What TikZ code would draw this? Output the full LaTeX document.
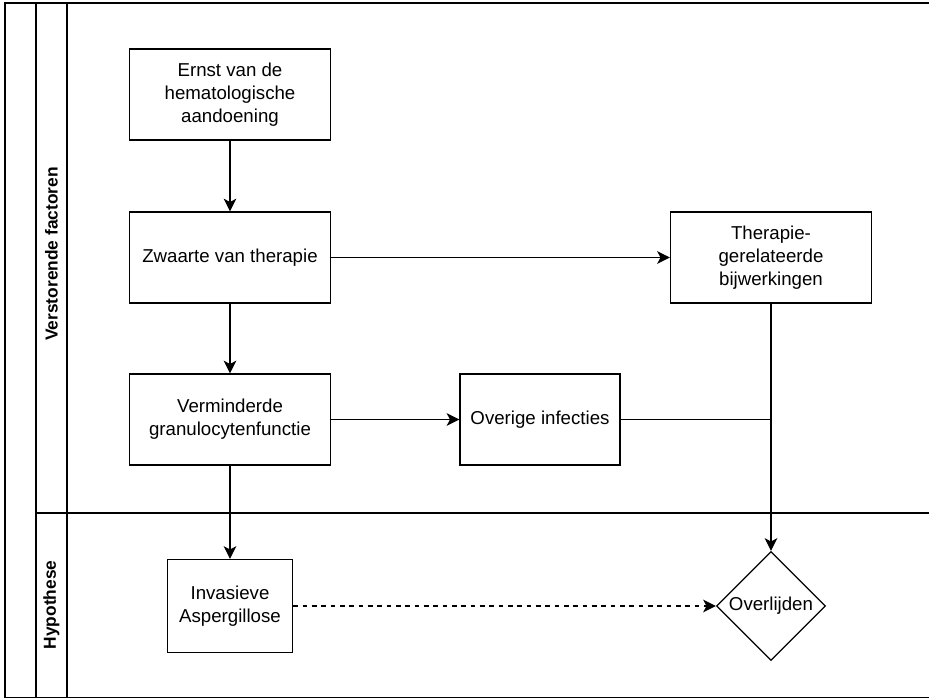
\documentclass[tikz,border=0pt]{standalone}
\usepackage{fontspec}
\setmainfont{Liberation Sans}
\usetikzlibrary{arrows.meta,shapes.geometric}

\begin{document}
\begin{tikzpicture}[
		x=0.75pt,
		y=-0.75pt,
		font=\fontsize{14}{17.2}\selectfont,
		line width=1pt,
		>={Stealth[length=9.5pt,width=9.5pt,inset=2.5pt]},
		box/.style={draw, rectangle, align=center, inner sep=2pt,
			minimum width=150.75pt, minimum height=68.25pt},
		decision/.style={draw, diamond, aspect=1, inner sep=0pt,
			minimum width=81.75pt, minimum height=81.75pt},
		lanelabel/.style={rotate=90, font=\fontsize{13}{15}\selectfont\bfseries},
		flow/.style={->},
		maybe/.style={->, dash pattern=on 3.6pt off 3.4pt}
		]
		
		\useasboundingbox (0,0) rectangle (929,699);
		
		% pool and lanes
		\draw (5,3) rectangle (940,697.6);
		\draw (36,3) -- (36,697.6);
		\draw (67,3) -- (67,697.6);
		\draw (36,513) -- (940,513);
		\node[lanelabel] (lane1) at (51.5,254) {Verstorende factoren};
		\node[lanelabel] (lane2) at (51.5,605) {Hypothese};
		
		% factors
		\node[box] (ernst) at (230,94.5) {Ernst van de\\hematologische\\aandoening};
		\node[box] (zwaarte) at (230,257.5) {Zwaarte van therapie};
		\node[box] (granulo) at (230,419.5) {Verminderde\\granulocytenfunctie};
		\node[box, minimum width=120pt] (infecties) at (540,419.5) {Overige infecties};
		\node[box] (bijwerk) at (771,257.5) {Therapie-\\gerelateerde\\bijwerkingen};
		
		% hypothesis
		\node[box, minimum width=93.75pt, minimum height=69.75pt] (aspergil) at (230,606) {Invasieve\\Aspergillose};
		\node[decision] (overlijden) at (771,606) {Overlijden};
		
		% connections
		\draw[flow] (ernst) -- (zwaarte);
		\draw[flow] (zwaarte) -- (granulo);
		\draw[flow] (zwaarte) -- (bijwerk);
		\draw[flow] (granulo) -- (infecties);
		\draw[flow] (granulo) -- (aspergil);
		\draw[flow] (bijwerk) -- (overlijden);
		\draw (infecties.east) -- (infecties.east -| bijwerk.south);
		\draw[maybe] (aspergil) -- (overlijden);
		
	\end{tikzpicture}
\end{document}
